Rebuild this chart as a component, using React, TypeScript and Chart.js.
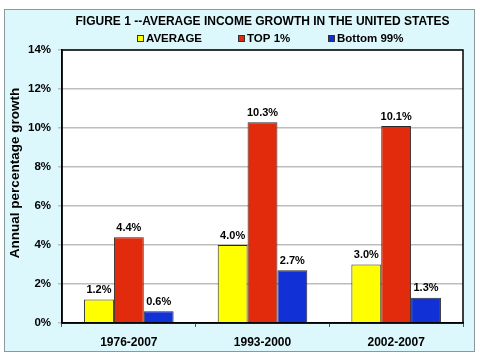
import React, { useEffect, useRef } from "react";
import { Chart, registerables } from "chart.js";

Chart.register(...registerables);

const categories = ["1976-2007", "1993-2000", "2002-2007"];
const averageValues = [1.2, 4.0, 3.0];
const top1Values = [4.4, 10.3, 10.1];
const bottom99Values = [0.6, 2.7, 1.3];
const seriesNames = ["AVERAGE", "TOP 1%", "Bottom 99%"];
const titleText = "FIGURE 1 --AVERAGE INCOME GROWTH IN THE UNITED STATES";
const yAxisTitle = "Annual percentage growth";

const FONT = "'Liberation Sans', Arial, sans-serif";
const COLORS = ["#ffff00", "#e22a0c", "#1131d6"];

const decorPlugin = {
  id: "decor",
  beforeDraw(chart: any) {
    const ctx = chart.ctx;
    ctx.save();
    ctx.fillStyle = "#ffffff";
    ctx.fillRect(0, 0, chart.width, chart.height);
    ctx.fillStyle = "#ddf8fc";
    ctx.fillRect(4, 9, 471, 343);
    ctx.strokeStyle = "#8a9a9c";
    ctx.lineWidth = 1;
    ctx.strokeRect(4.5, 9.5, 470, 342);
    const a = chart.chartArea;
    ctx.fillStyle = "#ffffff";
    ctx.fillRect(a.left, a.top, a.right - a.left, a.bottom - a.top);
    ctx.restore();
  },
  afterDraw(chart: any) {
    const ctx = chart.ctx;
    const a = chart.chartArea;
    ctx.save();
    // plot border
    ctx.strokeStyle = "#000000";
    ctx.lineWidth = 1.5;
    ctx.strokeRect(a.left, a.top, a.right - a.left, a.bottom - a.top);
    // title
    const cx = (a.left + a.right) / 2;
    ctx.fillStyle = "#000000";
    ctx.font = `bold 12px ${FONT}`;
    ctx.textAlign = "center";
    ctx.textBaseline = "middle";
    ctx.fillText(titleText, cx, 22);
    // y axis title
    ctx.save();
    ctx.translate(15, 173);
    ctx.rotate(-Math.PI / 2);
    ctx.font = `bold 13.5px ${FONT}`;
    ctx.fillText(yAxisTitle, 0, 0);
    ctx.restore();
    // legend
    ctx.font = `bold 11.5px ${FONT}`;
    ctx.textAlign = "left";
    const starts = [137, 238, 328];
    chart.data.datasets.forEach((ds: any, i: number) => {
      const x = starts[i];
      ctx.fillStyle = ds.backgroundColor;
      ctx.fillRect(x, 35, 7, 7);
      ctx.strokeStyle = "#333333";
      ctx.lineWidth = 1;
      ctx.strokeRect(x + 0.5, 35.5, 6, 6);
      ctx.fillStyle = "#000000";
      ctx.fillText(ds.label, x + 9, 39);
    });
    // value labels
    ctx.font = `bold 11px ${FONT}`;
    ctx.textAlign = "center";
    ctx.textBaseline = "bottom";
    chart.data.datasets.forEach((ds: any, i: number) => {
      const meta = chart.getDatasetMeta(i);
      meta.data.forEach((bar: any, j: number) => {
        ctx.fillText(ds.data[j].toFixed(1) + "%", bar.x, bar.y - 4);
      });
    });
    ctx.restore();
  },
};

export default function App() {
  const ref = useRef<HTMLCanvasElement>(null);
  useEffect(() => {
    document.body.style.margin = "0";
    const chart = new Chart(ref.current!, {
      type: "bar",
      data: {
        labels: categories,
        datasets: [
          { label: seriesNames[0], data: averageValues, backgroundColor: COLORS[0] },
          { label: seriesNames[1], data: top1Values, backgroundColor: COLORS[1] },
          { label: seriesNames[2], data: bottom99Values, backgroundColor: COLORS[2] },
        ].map((d) => ({ ...d, borderColor: "#2a2a2a", borderWidth: 1, barPercentage: 1, categoryPercentage: 0.67 })),
      },
      options: {
        animation: false,
        responsive: false,
        layout: { padding: { left: 0, top: 50, right: 17, bottom: 0 } },
        plugins: { legend: { display: false }, title: { display: false }, tooltip: { enabled: false } },
        scales: {
          x: {
            afterFit: (s: any) => { s.height = 36; },
            grid: { drawOnChartArea: false, color: "#555555", tickLength: 4, offset: true },
            border: { color: "#000000", width: 1.5 },
            ticks: { color: "#000000", font: { family: FONT, size: 12, weight: "bold" }, padding: 8 },
          },
          y: {
            min: 0,
            max: 14,
            afterFit: (s: any) => { s.width = 62; },
            grid: { color: "#bdbdbd", lineWidth: 1.5, tickLength: 4 },
            border: { color: "#000000", width: 1.5 },
            ticks: {
              stepSize: 2,
              color: "#000000",
              padding: 7,
              font: { family: FONT, size: 11.5, weight: "bold" },
              callback: (v: any) => v + "%",
            },
          },
        },
      },
      plugins: [decorPlugin],
    });
    return () => chart.destroy();
  }, []);
  return (
    <div style={{ position: "relative", width: 480, height: 359 }}>
      <canvas ref={ref} width={480} height={359} style={{ display: "block", width: 480, height: 359 }} />
    </div>
  );
}
